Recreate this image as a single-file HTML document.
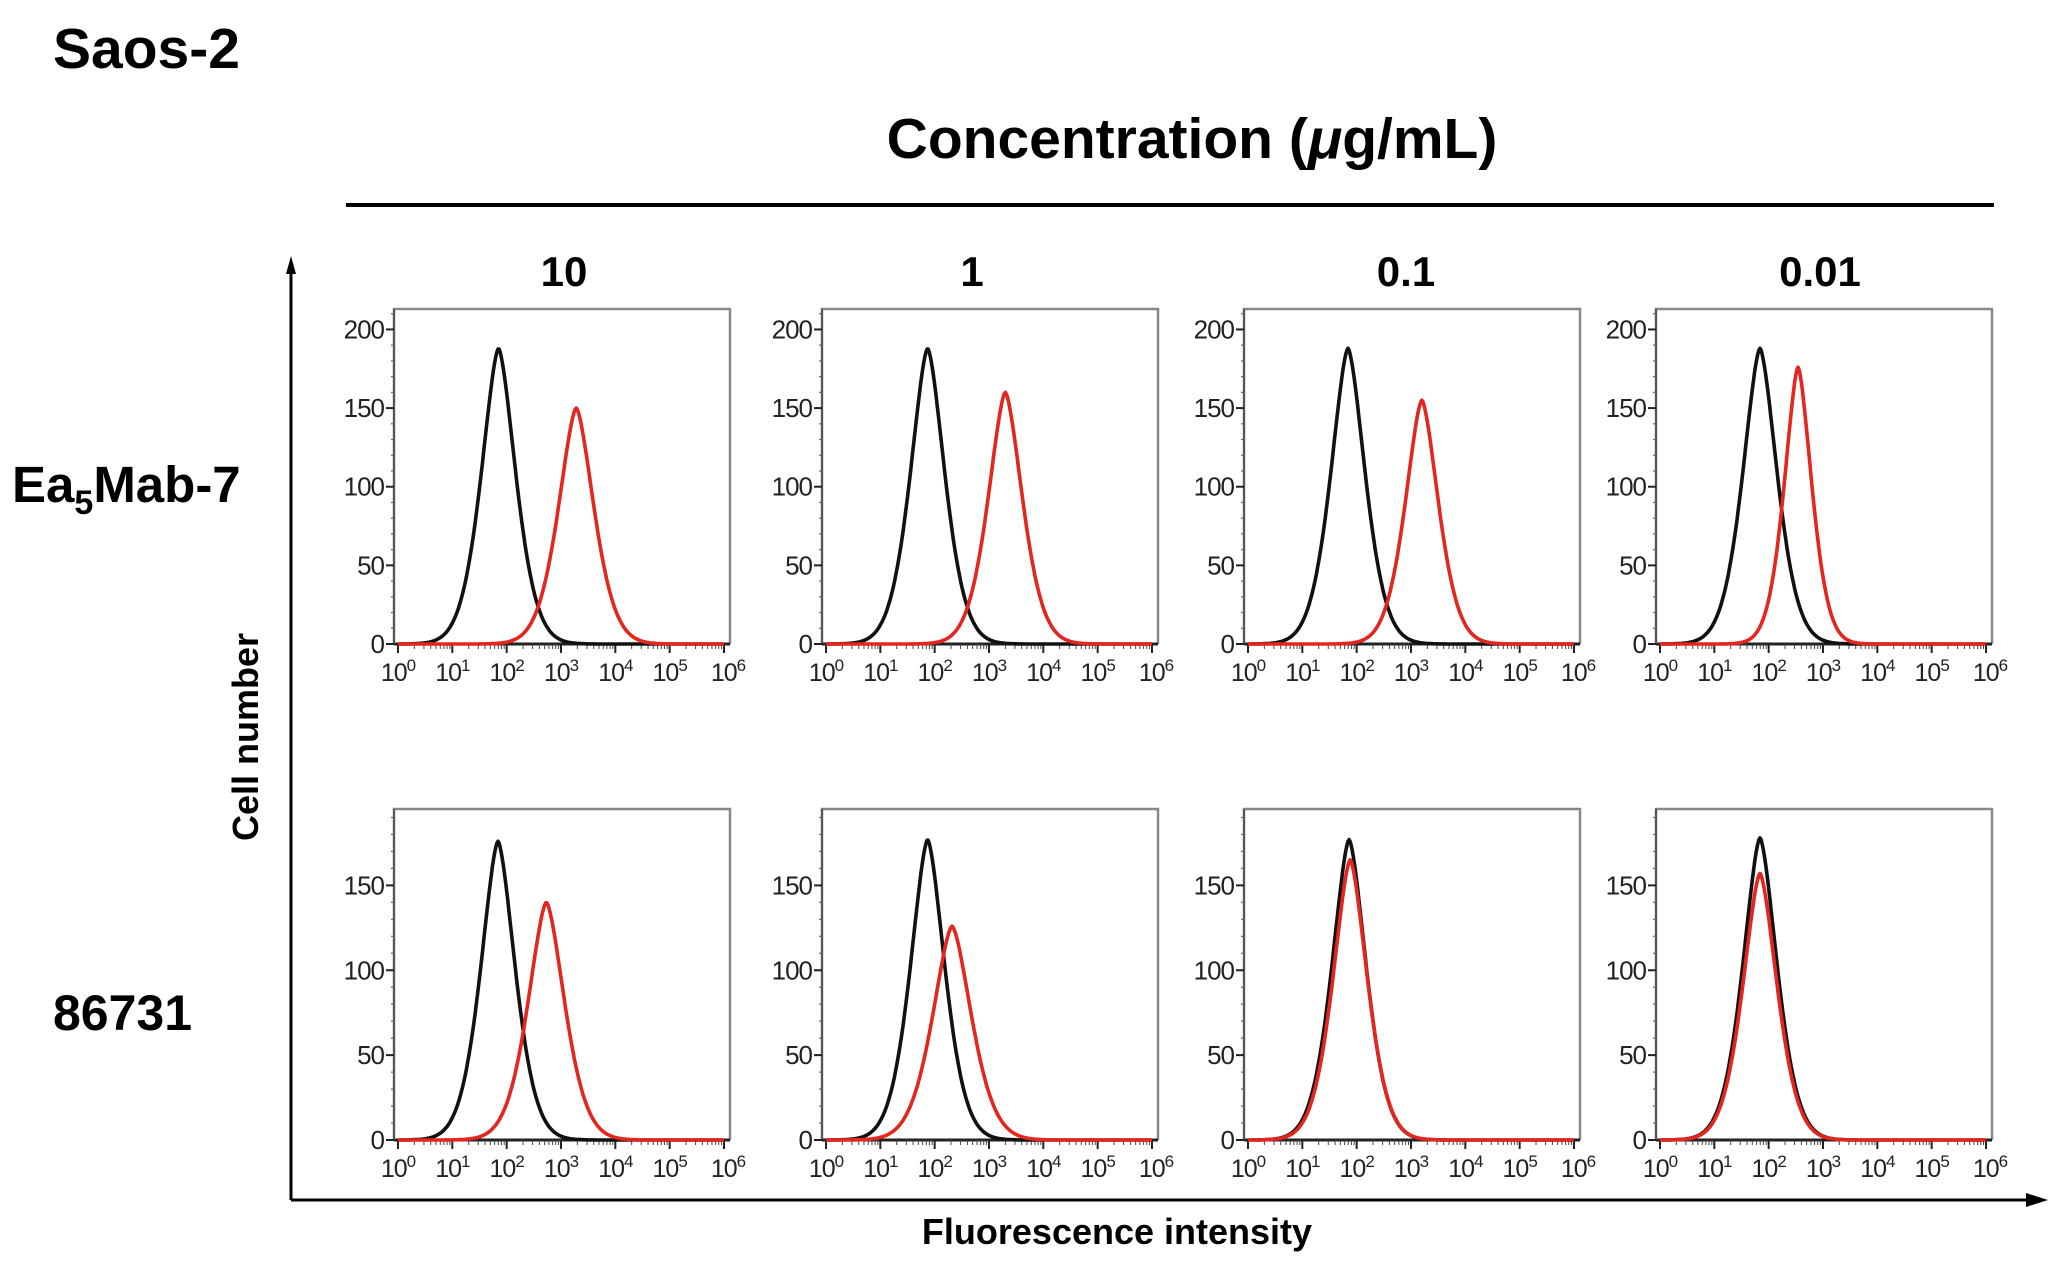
<!DOCTYPE html>
<html><head><meta charset="utf-8">
<style>
html,body{margin:0;padding:0;background:#fff;}
svg{display:block;font-family:"Liberation Sans",sans-serif;}
</style></head>
<body>
<svg id="fig" width="2062" height="1277" viewBox="0 0 2062 1277">
  <text x="53" y="68" font-size="57" font-weight="bold">Saos-2</text>
  <text x="1192" y="158" font-size="57" font-weight="bold" text-anchor="middle">Concentration (<tspan font-style="italic">μ</tspan>g/mL)</text>
  <line x1="346" y1="205" x2="1994" y2="205" stroke="#000" stroke-width="4"/>
  <text x="12" y="502" font-size="51" font-weight="bold">Ea<tspan font-size="34" dy="12">5</tspan><tspan dy="-12">Mab-7</tspan></text>
  <text x="53" y="1030" font-size="50" font-weight="bold">86731</text>
  <line x1="291" y1="1200" x2="291" y2="270" stroke="#000" stroke-width="3"/>
  <polygon points="291,256 286,274 296,274" fill="#000"/>
  <line x1="291" y1="1200" x2="2030" y2="1200" stroke="#000" stroke-width="3"/>
  <polygon points="2048,1200 2026,1193 2026,1207" fill="#000"/>
  <text x="0" y="0" font-size="36" font-weight="bold" text-anchor="middle" transform="translate(258,737) rotate(-90)">Cell number</text>
  <text x="1117" y="1244" font-size="36" font-weight="bold" text-anchor="middle">Fluorescence intensity</text>
  <g id="panels"></g>
</svg>
<script>
// ---- data ----
const concentrations = ["10", "1", "0.1", "0.01"];
const antibodies = ["Ea5Mab-7", "86731"];
// peak positions in log10 units, peak heights in cell number, widths (sigma, decades)
const row1BlackPeakLog = [1.85, 1.87, 1.84, 1.84];
const row1BlackHeight = [188, 188, 188, 188];
const row1RedPeakLog = [3.28, 3.3, 3.2, 2.54];
const row1RedHeight = [150, 160, 155, 176];
const row2BlackPeakLog = [1.84, 1.87, 1.86, 1.84];
const row2BlackHeight = [176, 177, 177, 178];
const row2RedPeakLog = [2.73, 2.32, 1.88, 1.84];
const row2RedHeight = [140, 126, 165, 157];
const blackSigma = [0.3, 0.3, 0.3, 0.3, 0.3, 0.3, 0.3, 0.3];
const redSigma = [0.31, 0.3, 0.29, 0.24, 0.32, 0.34, 0.3, 0.3];
const row1YTicks = [0, 50, 100, 150, 200];
const row2YTicks = [0, 50, 100, 150];
const xTickExps = [0, 1, 2, 3, 4, 5, 6];

const NS = "http://www.w3.org/2000/svg";
const colLeft = [394, 822, 1244, 1656];
const panelW = 336;
const rows = [
  {top: 309, zero: 644, yMax: 213, ticks: row1YTicks, bp: row1BlackPeakLog, bh: row1BlackHeight, rp: row1RedPeakLog, rh: row1RedHeight},
  {top: 809, zero: 1140, yMax: 195, ticks: row2YTicks, bp: row2BlackPeakLog, bh: row2BlackHeight, rp: row2RedPeakLog, rh: row2RedHeight}
];
const g = document.getElementById("panels");
function mk(tag, attrs, parent) {
  const e = document.createElementNS(NS, tag);
  for (const k in attrs) e.setAttribute(k, attrs[k]);
  (parent || g).appendChild(e);
  return e;
}
const colLabelX = [564, 972, 1406, 1820];
concentrations.forEach((c, i) => {
  const t = mk("text", {x: colLabelX[i], y: 286, "font-size": 42, "font-weight": "bold", "text-anchor": "middle"});
  
  
  t.textContent = c;
});
rows.forEach((r, ri) => {
  concentrations.forEach((c, ci) => {
    const L = colLeft[ci], R = L + panelW;
    const xs = v => L + 4 + (v / 6) * (panelW - 10);
    const ys = v => r.zero - (v / r.yMax) * (r.zero - r.top);
    const pg = mk("g", {});
    
    
    const frame = mk("path", {d: `M${L},${r.zero} L${L},${r.top} L${R},${r.top} L${R},${r.zero}`, fill: "none", stroke: "#888", "stroke-width": 2.5}, pg);
    
    
    const ax = mk("line", {x1: L, y1: r.zero, x2: R, y2: r.zero, stroke: "#222", "stroke-width": 3}, pg);
    
    
    const yl = mk("line", {x1: L, y1: r.zero, x2: L, y2: r.top, stroke: "#555", "stroke-width": 2}, pg);
    
    
    for (let v = 0; v <= r.yMax; v += 10) {
      mk("line", {x1: L - 3, y1: ys(v), x2: L, y2: ys(v), stroke: "#666", "stroke-width": 1.2}, pg);
    }
    r.ticks.forEach(v => {
      mk("line", {x1: L - 8, y1: ys(v), x2: L, y2: ys(v), stroke: "#222", "stroke-width": 2}, pg);
      const tl = mk("text", {x: L - 10, y: ys(v) + 9, "font-size": 26, "text-anchor": "end", fill: "#222", "letter-spacing": "-1"}, pg);
      
      
      tl.textContent = v;
    });
    xTickExps.forEach(e => {
      mk("line", {x1: xs(e), y1: r.zero, x2: xs(e), y2: r.zero + 9, stroke: "#222", "stroke-width": 2}, pg);
      if (e < 6) for (let k = 2; k < 10; k++) {
        const xx = xs(e + Math.log10(k));
        mk("line", {x1: xx, y1: r.zero, x2: xx, y2: r.zero + 5, stroke: "#444", "stroke-width": 1}, pg);
      }
      const tl = mk("text", {x: xs(e) + (e === 6 ? 4 : 0), y: r.zero + 37, "font-size": 25, "text-anchor": "middle", fill: "#222", "letter-spacing": "-1"}, pg);
      
      
      tl.innerHTML = `10<tspan font-size="17" dy="-10">${e}</tspan>`;
    });
    function curve(peak, h, sig, color, name) {
      let d = "";
      for (let v = 0; v <= 6.001; v += 0.02) {
        const y = h * Math.exp(-0.5 * Math.pow(Math.abs(v - peak) / sig, 1.6));
        d += (d ? " L" : "M") + xs(v).toFixed(1) + "," + ys(y).toFixed(1);
      }
      const p = mk("path", {d: d, fill: "none", stroke: color, "stroke-width": 3.6, "stroke-linejoin": "round"}, pg);
      
      
    }
    const idx = ri * 4 + ci;
    curve(r.bp[ci], r.bh[ci], blackSigma[idx], "#111", "control-histogram");
    curve(r.rp[ci], r.rh[ci], redSigma[idx], "#e3261f", "antibody-histogram");
  });
});
</script>
</body></html>
